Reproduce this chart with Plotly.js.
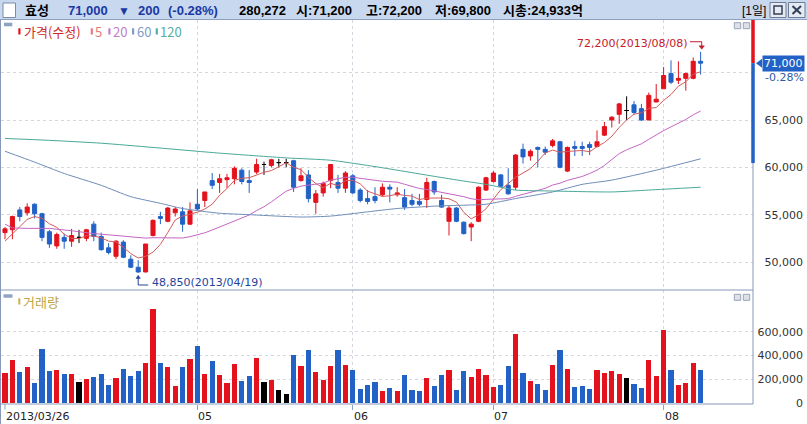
<!DOCTYPE html>
<html>
<head>
<meta charset="utf-8">
<script src="https://cdn.plot.ly/plotly-3.0.1.min.js"></script>
<style>
html,body{margin:0;padding:0;background:#ffffff;overflow:hidden;}
#chart{width:807px;height:424px;}
</style>
</head>
<body>
<div id="chart"></div>
<script>
// ---------------- DATA ----------------
const opens = [53100,53400,55500,55200,56100,55100,53200,51700,52600,52200,
  52600,52500,54000,52700,51500,50600,52100,50300,49450,48950,
  52800,54800,54300,55200,55300,54000,56100,56500,58600,58400,
  58700,58800,59700,58600,59500,60300,60200,60500,60500,60700,
  58600,59200,56300,57300,58600,58400,57800,59100,57600,56700,
  56900,57100,57900,57100,56800,56500,56400,56600,58500,56500,
  54300,55700,54200,53700,54300,57600,58500,59200,58100,57900,
  61900,61200,62100,61900,62300,62700,59600,62200,62200,62400,
  62200,63400,65000,65600,66000,66600,66200,65000,66900,68300,
  69900,69200,69400,69400,71200];
const highs = [53700,54900,55800,56200,56200,55200,53400,53100,53000,53500,
  53400,53500,54300,53100,52000,52300,52300,50700,50200,51900,
  54500,55300,55800,55800,55800,56300,57700,57400,59400,59300,
  59300,60100,59900,59700,60900,60600,60900,60900,60900,60800,
  59900,59700,57600,58500,60300,59200,59600,59300,57800,57600,
  57900,58300,58200,57900,57700,57200,57200,58900,58600,57100,
  56000,55800,54300,54200,58000,59000,59600,59300,59900,61400,
  62500,61900,62200,62200,63000,62800,62200,62800,62700,62700,
  63900,64800,65400,66800,67500,67000,66700,67900,68800,70600,
  71300,71200,70000,71600,72200];
const lows = [52400,52400,54300,54900,54600,52200,51500,51400,51400,51600,
  52000,52200,52200,51200,50800,50300,50400,49350,48850,48900,
  52700,54000,54200,54800,53200,53900,55500,55800,57700,57300,
  57800,58200,58200,57300,59300,59200,60000,60000,60000,57400,
  58500,56300,55100,56900,57800,57300,57300,57200,56300,56100,
  56200,56900,56300,56900,55500,55900,55900,55700,57100,55700,
  52800,54200,52900,52200,54200,57500,58400,57900,57100,57600,
  60400,60700,60000,61300,62100,59900,59500,61200,61200,61300,
  62100,63300,64200,64600,65000,65600,64900,65000,66900,68300,
  68800,68800,68100,69300,69800];
const closes = [53500,54800,54800,55800,55100,52600,51900,52900,52200,52800,
  52600,53400,52700,51300,51000,52200,50500,49450,48950,51900,
  54400,54600,55700,55600,54000,55400,55600,57400,58100,58800,
  58900,59900,58500,58400,60300,60300,60800,60500,60500,57900,
  59100,56700,57200,58300,60300,57800,59400,57300,56500,56400,
  56500,57900,57700,57300,55800,56100,56100,58400,57400,55800,
  55700,54300,53000,54000,57900,58900,59400,58000,57200,61300,
  61100,61700,61900,61600,62800,60000,62100,62000,62000,62100,
  62700,64300,65300,66700,66000,65800,65000,67600,67200,69700,
  69000,69400,69900,71200,71000];
const volumes = [256000,363000,262000,307000,172000,456000,270000,279000,245000,245000,
  177000,203000,220000,245000,155000,211000,287000,231000,270000,338000,
  794000,338000,304000,144000,304000,372000,479000,245000,355000,237000,
  169000,330000,186000,228000,380000,177000,194000,110000,76000,406000,
  313000,448000,262000,194000,313000,448000,321000,279000,118000,152000,
  177000,101000,127000,101000,237000,110000,101000,211000,144000,237000,
  279000,110000,270000,220000,287000,237000,135000,152000,313000,583000,
  254000,186000,161000,110000,321000,448000,287000,135000,144000,118000,
  279000,254000,270000,245000,211000,161000,127000,363000,228000,617000,
  279000,152000,169000,338000,280272];

// moving-average values that need history before the window
const ma5Head = [52200,53000,53800,54500];
const ma20HeadIdx = [0,1,3,6,9,12,15,18];
const ma20Head = [54000,53600,53550,53550,53300,53000,52800,52600];
const ma60Idx = [0,4,8,13,17,21,24,29,33,40,44,49,53,58,62,65,69,74,78,82,88,94];
const ma60 = [61700,60550,59350,58100,56900,56200,55650,55150,55000,54750,54850,55300,55650,55900,56000,56100,56700,57400,58200,58650,59700,60900];
const ma120Idx = [0,6,13,20,29,38,44,49,53,58,62,65,69,74,82,87,94];
const ma120 = [63050,62850,62550,62100,61500,61000,60750,60200,59700,59050,58550,58200,57600,57500,57400,57600,57900];

// axis ticks / labels
const monthTickIdx = [0,26,47,66,89];
const monthTickText = ['2013/03/26','05','06','07','08'];
const priceTicks = [50000,55000,60000,65000,70000];
const volTicks = [0,200000,400000,600000];
const extremeDates = ['2013/08/08','2013/04/19'];
const stockName = '효성';
const marketCap = '24,933억';
const sideBarLow = 60450;

// ---------------- helpers ----------------
const W = 807, H = 424;
const X = p => p / W;
const Y = p => 1 - p / H;
const fmt = n => Math.round(n).toLocaleString('en-US');
const avg = a => a.reduce((s, v) => s + v, 0) / a.length;

const RED = '#e3121c', BLUE = '#2262c6', BLACK = '#000000';
const N = closes.length;
const idx = closes.map((_, i) => i);

const priceRange = [47148, 75563];
const volRange = [-8415, 950895];

function pick(cond) {
  const o = {x: [], open: [], high: [], low: [], close: []};
  for (let i = 0; i < N; i++) if (cond(i)) {
    o.x.push(i); o.open.push(opens[i]); o.high.push(highs[i]); o.low.push(lows[i]); o.close.push(closes[i]);
  }
  return o;
}
function candle(s, color) {
  return {type: 'candlestick', x: s.x, open: s.open, high: s.high, low: s.low, close: s.close,
    xaxis: 'x', yaxis: 'y', whiskerwidth: 0, hoverinfo: 'skip', showlegend: false,
    increasing: {line: {color: color, width: 1}, fillcolor: color},
    decreasing: {line: {color: color, width: 1}, fillcolor: color}};
}

const ma5 = idx.map(i => i < 4 ? ma5Head[i] : avg(closes.slice(i - 4, i + 1)));
const ma20x = ma20HeadIdx.concat(idx.slice(19));
const ma20y = ma20Head.concat(idx.slice(19).map(i => avg(closes.slice(i - 19, i + 1))));

const volColors = idx.map(i => closes[i] > opens[i] ? RED : (closes[i] < opens[i] ? BLUE : BLACK));

const traces = [
  candle(pick(i => closes[i] > opens[i]), RED),
  candle(pick(i => closes[i] < opens[i]), BLUE),
  candle(pick(i => closes[i] === opens[i]), BLACK),
  {type: 'scatter', mode: 'lines', x: idx, y: ma5, line: {color: '#d65a5a', width: 1}, hoverinfo: 'skip', xaxis: 'x', yaxis: 'y'},
  {type: 'scatter', mode: 'lines', x: ma20x, y: ma20y, line: {color: '#c466c4', width: 1}, hoverinfo: 'skip', xaxis: 'x', yaxis: 'y'},
  {type: 'scatter', mode: 'lines', x: ma60Idx, y: ma60, line: {color: '#6f8db8', width: 1, shape: 'spline', smoothing: 0.6}, hoverinfo: 'skip', xaxis: 'x', yaxis: 'y'},
  {type: 'scatter', mode: 'lines', x: ma120Idx, y: ma120, line: {color: '#48a898', width: 1, shape: 'spline', smoothing: 0.6}, hoverinfo: 'skip', xaxis: 'x', yaxis: 'y'},
  {type: 'bar', x: idx, y: volumes, width: 0.68, marker: {color: volColors, line: {width: 0}}, hoverinfo: 'skip', xaxis: 'x', yaxis: 'y2'}
];

// ---------------- decorations ----------------
function rect(x0, y0, x1, y1, fill, line, lw) {
  return {type: 'rect', xref: 'paper', yref: 'paper', x0: X(x0), x1: X(x1), y0: Y(y1), y1: Y(y0),
    fillcolor: fill, line: {color: line || fill, width: lw === undefined ? 1 : lw}, layer: 'above'};
}
function seg(x0, y0, x1, y1, color, w) {
  return {type: 'line', xref: 'paper', yref: 'paper', x0: X(x0), x1: X(x1), y0: Y(y0), y1: Y(y1),
    line: {color: color, width: w || 1}, layer: 'above'};
}
const FRAME = '#8798bb';
const lastPrice = closes[N - 1];
const hiVal = Math.max(...highs), hiIdx = highs.indexOf(hiVal);
const loVal = Math.min(...lows), loIdx = lows.indexOf(loVal);

const shapes = [
  rect(0, 0, 807, 19.5, '#c8d8ee', '#c8d8ee', 0),
  seg(0, 19.5, 807, 19.5, '#8ea0c0', 1),
  rect(3, 3, 15.5, 17.5, '#ffffff', '#7d8ca6', 1),
  rect(770, 2.5, 786, 17.5, '#e6ebf3', '#6d7c96', 1),
  rect(774, 6, 782, 14, 'rgba(0,0,0,0)', '#33405a', 1.5),
  rect(788.5, 2.5, 805, 17.5, '#e6ebf3', '#6d7c96', 1),
  seg(792.5, 6, 801, 14, '#33405a', 2), seg(792.5, 14, 801, 6, '#33405a', 2),
  // frames
  seg(0.5, 20, 0.5, 424, FRAME, 1),
  seg(0, 290, 753, 290, FRAME, 1),
  seg(0, 404, 753, 404, FRAME, 1),
  seg(753, 20, 753, 404, FRAME, 1),
  // small panel buttons
  rect(734.3, 22.7, 740.7, 28.7, '#dde1e9', '#9aa4b6', 1),
  rect(743.3, 22.7, 749.7, 28.7, '#dde1e9', '#9aa4b6', 1),
  rect(734.3, 294.3, 740.7, 300.3, '#dde1e9', '#9aa4b6', 1),
  rect(743.3, 294.3, 749.7, 300.3, '#dde1e9', '#9aa4b6', 1),
  // legend icons
  rect(4, 22.7, 12.3, 26.3, '#8ea3c2', '#8ea3c2', 0),
  rect(3.5, 294.3, 12.5, 297.7, '#8ea3c2', '#8ea3c2', 0),
  rect(18.3, 298.3, 20.3, 304.5, '#c8b050', '#c8b050', 0),
  // x tick at first date
  {type: 'line', xref: 'x', yref: 'paper', x0: monthTickIdx[0], x1: monthTickIdx[0], y0: Y(404), y1: Y(409.5), line: {color: '#8fa3c4', width: 1}},
  // right price bar
  {type: 'line', xref: 'paper', yref: 'y', x0: X(753), x1: X(753), y0: lastPrice, y1: priceRange[1], line: {color: RED, width: 3.5}, layer: 'above'},
  {type: 'line', xref: 'paper', yref: 'y', x0: X(753), x1: X(753), y0: sideBarLow, y1: lastPrice, line: {color: BLUE, width: 3.5}, layer: 'above'},
  {type: 'path', xref: 'paper', yref: 'y', ysizemode: 'pixel', yanchor: lastPrice,
    path: `M ${X(756)},0 L ${X(762)},4.5 L ${X(762)},-4.5 Z`, fillcolor: BLUE, line: {width: 0}, layer: 'above'},
  // high arrow
  {type: 'path', xref: 'x', yref: 'y', xsizemode: 'pixel', ysizemode: 'pixel', xanchor: hiIdx, yanchor: hiVal,
    path: 'M -10.6,10.1 L 1.1,10.1 L 1.1,5.5', line: {color: '#c41a2a', width: 1}, layer: 'above'},
  {type: 'path', xref: 'x', yref: 'y', xsizemode: 'pixel', ysizemode: 'pixel', xanchor: hiIdx, yanchor: hiVal,
    path: 'M -1.6,6 L 3.8,6 L 1.1,2.6 Z', fillcolor: '#c41a2a', line: {color: '#c41a2a', width: 0.5}, layer: 'above'},
  // low arrow
  {type: 'path', xref: 'x', yref: 'y', xsizemode: 'pixel', ysizemode: 'pixel', xanchor: loIdx, yanchor: loVal,
    path: 'M 0,-5 L 0,-12.1 L 10,-12.1', line: {color: '#24449c', width: 1}, layer: 'above'},
  {type: 'path', xref: 'x', yref: 'y', xsizemode: 'pixel', ysizemode: 'pixel', xanchor: loIdx, yanchor: loVal,
    path: 'M -2.2,-5.6 L 2.2,-5.6 L 0,-2.4 Z', fillcolor: '#24449c', line: {color: '#24449c', width: 0.5}, layer: 'above'}
];

// legend bars
const legendItems = [
  {t: '가격(수정)', x: 22.5, bar: 18.3, c: '#cf2a2a', bc: RED},
  {t: '5', x: 94.3, bar: 90.7, c: '#e07c7c', bc: '#e07c7c'},
  {t: '20', x: 111.7, bar: 108.3, c: '#c27ec8', bc: '#c27ec8'},
  {t: '60', x: 135.7, bar: 132, c: '#7f9bc6', bc: '#7f9bc6'},
  {t: '120', x: 159.3, bar: 155.7, c: '#56ad9f', bc: '#56ad9f'}
];
legendItems.forEach(l => shapes.push(rect(l.bar, 28.3, l.bar + 2.2, 34.5, l.bc, l.bc, 0)));

// ---------------- annotations ----------------
const hdrFamily = 'Liberation Sans, Noto Sans CJK KR, sans-serif';
function hdr(text, x, color, bold, size) {
  return {xref: 'paper', yref: 'paper', x: X(x), y: Y(10.5), xanchor: 'left', yanchor: 'middle',
    text: bold === false ? text : '<b>' + text + '</b>', showarrow: false, borderpad: 0,
    font: {family: hdrFamily, size: size || 13, color: color || '#000'}};
}
const prevClose = closes[N - 2];
const chg = lastPrice - prevClose;
const pct = (chg / prevClose * 100).toFixed(2) + '%';
const HB = '#1b38a4';
const annotations = [
  hdr(stockName, 24, '#000'),
  hdr(fmt(lastPrice), 66.7, HB),
  hdr(chg < 0 ? '▼' : '▲', 117.5, HB, true, 12),
  hdr(fmt(Math.abs(chg)), 136.7, HB),
  hdr('(' + pct + ')', 166.7, HB),
  hdr(fmt(volumes[N - 1]), 238, '#000'),
  hdr('시:' + fmt(opens[N - 1]), 295, '#000'),
  hdr('고:' + fmt(highs[N - 1]), 365, '#000'),
  hdr('저:' + fmt(lows[N - 1]), 434.3, '#000'),
  hdr('시총:' + marketCap, 501.7, '#000'),
  hdr('[1일]', 740.5, '#000', false, 12),
  // current price box
  {xref: 'paper', yref: 'y', x: X(805), y: lastPrice, xanchor: 'right', yanchor: 'middle', text: fmt(lastPrice),
    showarrow: false, bgcolor: BLUE, borderpad: 1, font: {family: 'DejaVu Sans', size: 11, color: '#ffffff'}},
  {xref: 'paper', yref: 'y', x: X(805), y: lastPrice, yshift: -14, xanchor: 'right', yanchor: 'middle', text: pct,
    showarrow: false, borderpad: 0, font: {family: 'DejaVu Sans', size: 11, color: '#2f5aa6'}},
  // extremes
  {xref: 'x', yref: 'y', x: hiIdx, y: hiVal, xanchor: 'right', yanchor: 'middle', xshift: -13, yshift: 8.5,
    text: fmt(hiVal) + '(' + extremeDates[0] + ')', showarrow: false, borderpad: 0,
    font: {family: 'DejaVu Sans', size: 11, color: '#c41a2a'}},
  {xref: 'x', yref: 'y', x: loIdx, y: loVal, xanchor: 'left', yanchor: 'middle', xshift: 13, yshift: -9.8,
    text: fmt(loVal) + '(' + extremeDates[1] + ')', showarrow: false, borderpad: 0,
    font: {family: 'DejaVu Sans', size: 11, color: '#24449c'}},
  // volume legend text
  {xref: 'paper', yref: 'paper', x: X(21.5), y: Y(301.5), xanchor: 'left', yanchor: 'middle', text: '거래량',
    showarrow: false, borderpad: 0, font: {family: 'Noto Sans CJK KR', size: 13, color: '#bda544'}}
];
legendItems.forEach(l => annotations.push({xref: 'paper', yref: 'paper', x: X(l.x), y: Y(31.5), xanchor: 'left', yanchor: 'middle',
  text: l.t, showarrow: false, borderpad: 0, font: {family: 'Noto Sans CJK KR', size: 13, color: l.c}}));
monthTickIdx.forEach((m, k) => annotations.push({xref: 'x', yref: 'paper', x: m, y: Y(416.5), xanchor: 'left', yanchor: 'middle',
  xshift: 0, text: monthTickText[k], showarrow: false, borderpad: 0, font: {family: 'DejaVu Sans', size: 11, color: '#222'}}));

// ---------------- layout ----------------
const GRID = '#d3d8e0';
const tickFont = {family: 'DejaVu Sans', size: 11, color: '#333'};
const layout = {
  width: W, height: H, margin: {l: 0, r: 0, t: 0, b: 0},
  paper_bgcolor: '#ffffff', plot_bgcolor: '#ffffff', showlegend: false,
  boxgap: 0.45, boxgroupgap: 0, bargap: 0,
  xaxis: {domain: [X(1), X(753)], range: [-0.5405, 101.08], anchor: 'y2', rangeslider: {visible: false},
    tickvals: monthTickIdx.slice(1), ticks: 'outside', ticklen: 5, tickcolor: '#8fa3c4', showticklabels: false,
    showgrid: true, gridcolor: GRID, griddash: 'dot', zeroline: false, showline: false, fixedrange: true},
  yaxis: {domain: [Y(289), Y(20)], range: priceRange, anchor: 'free', position: X(806), side: 'right',
    ticklabelposition: 'inside', ticklabeloverflow: 'allow', ticks: '', tickvals: priceTicks,
    ticktext: priceTicks.map(v => v === 70000 ? '' : fmt(v)), showgrid: true, gridcolor: GRID, griddash: 'dot',
    zeroline: false, showline: false, tickfont: tickFont, fixedrange: true},
  yaxis2: {domain: [Y(404), Y(290)], range: volRange, anchor: 'free', position: X(806), side: 'right',
    ticklabelposition: 'inside', ticklabeloverflow: 'allow', ticks: '', tickvals: volTicks,
    ticktext: volTicks.map(v => fmt(v)), showgrid: true, gridcolor: GRID, griddash: 'dot',
    zeroline: false, showline: false, tickfont: tickFont, fixedrange: true},
  yaxis3: {overlaying: 'y', anchor: 'free', position: X(753), side: 'right', range: priceRange,
    ticks: 'outside', ticklen: 3, tickcolor: '#9aa8c0', dtick: 1000, tick0: 0, showticklabels: false,
    showgrid: false, zeroline: false, showline: false, fixedrange: true},
  yaxis4: {overlaying: 'y2', anchor: 'free', position: X(753), side: 'right', range: volRange,
    ticks: 'outside', ticklen: 3, tickcolor: '#9aa8c0', dtick: 50000, tick0: 0, showticklabels: false,
    showgrid: false, zeroline: false, showline: false, fixedrange: true},
  shapes: shapes,
  annotations: annotations
};

Plotly.newPlot('chart', traces, layout, {staticPlot: true, displayModeBar: false});
</script>
</body>
</html>
